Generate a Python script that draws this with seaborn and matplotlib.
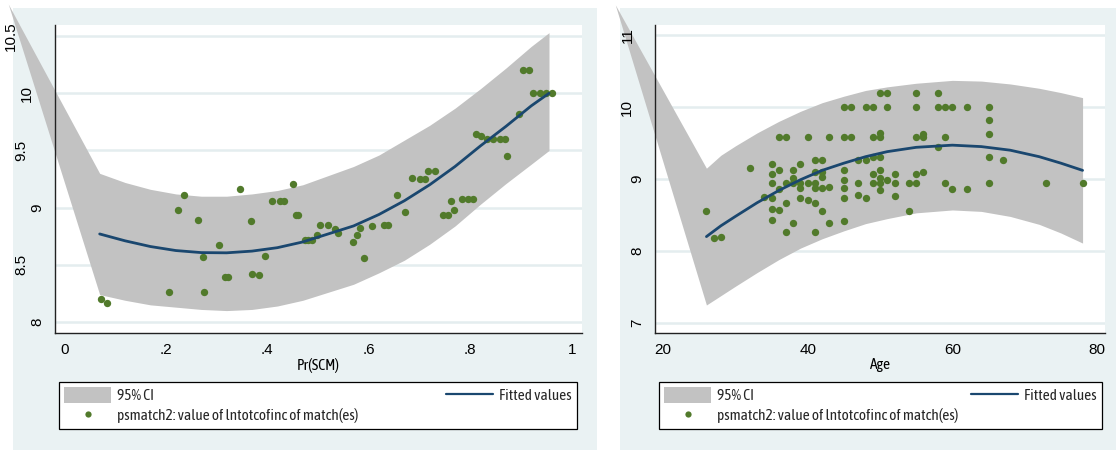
import matplotlib
matplotlib.use("Agg")
import matplotlib.pyplot as plt
from matplotlib import font_manager as fm
from matplotlib.patches import Rectangle, Patch
from matplotlib.lines import Line2D
from matplotlib.font_manager import FontProperties
from matplotlib.transforms import blended_transform_factory, ScaledTranslation
import seaborn as sns

sns.set_style("white")
plt.rcParams["font.family"] = ["Liberation Sans", "DejaVu Sans"]

# ---------------- Panel 1: outcome of matches vs propensity score ----------------
scm_pscore = [0.072, 0.084, 0.207, 0.225, 0.237, 0.264, 0.273, 0.276, 0.305, 0.317,
              0.323, 0.346, 0.369, 0.371, 0.384, 0.396, 0.409, 0.425, 0.433, 0.451,
              0.457, 0.461, 0.474, 0.481, 0.488, 0.499, 0.504, 0.520, 0.533, 0.540,
              0.569, 0.576, 0.583, 0.591, 0.607, 0.630, 0.638, 0.656, 0.671, 0.686,
              0.700, 0.711, 0.716, 0.730, 0.747, 0.757, 0.761, 0.768, 0.783, 0.796,
              0.806, 0.812, 0.822, 0.832, 0.845, 0.858, 0.868, 0.873, 0.896, 0.904,
              0.916, 0.924, 0.937, 0.950, 0.960]
scm_match_val = [8.20, 8.17, 8.26, 8.98, 9.11, 8.89, 8.57, 8.26, 8.67, 8.39,
                 8.39, 9.16, 8.88, 8.42, 8.41, 8.58, 9.06, 9.06, 9.06, 9.21,
                 8.94, 8.94, 8.72, 8.72, 8.72, 8.76, 8.85, 8.85, 8.81, 8.78,
                 8.70, 8.76, 8.82, 8.56, 8.84, 8.85, 8.85, 9.11, 8.96, 9.26,
                 9.25, 9.25, 9.32, 9.32, 8.94, 8.94, 9.06, 8.98, 9.08, 9.08,
                 9.08, 9.64, 9.63, 9.60, 9.60, 9.60, 9.60, 9.45, 9.82, 10.20,
                 10.20, 10.00, 10.00, 10.00, 10.00]

# quadratic fit and its 95% CI (first entry of the band is the stray vertex Stata emits)
scm_fit_x = [0.07, 0.12, 0.17, 0.22, 0.27, 0.32, 0.37, 0.42, 0.47, 0.52,
             0.57, 0.62, 0.67, 0.72, 0.77, 0.82, 0.87, 0.92, 0.955]
scm_fit_y = [8.77, 8.71, 8.66, 8.625, 8.607, 8.605, 8.62, 8.65, 8.70, 8.77,
             8.84, 8.94, 9.06, 9.20, 9.36, 9.54, 9.71, 9.89, 10.00]
scm_ci_x = [-0.11, 0.07, 0.12, 0.17, 0.22, 0.27, 0.32, 0.37, 0.42, 0.47, 0.52,
            0.57, 0.62, 0.67, 0.72, 0.77, 0.82, 0.87, 0.92, 0.955]
scm_ci_hi = [10.78, 9.30, 9.22, 9.16, 9.12, 9.10, 9.10, 9.12, 9.15, 9.20, 9.28,
             9.36, 9.46, 9.59, 9.72, 9.87, 10.04, 10.22, 10.41, 10.53]
scm_ci_lo = [10.78, 8.24, 8.19, 8.15, 8.13, 8.11, 8.10, 8.11, 8.14, 8.19, 8.26,
             8.33, 8.43, 8.54, 8.68, 8.84, 9.03, 9.21, 9.38, 9.50]
scm_xticks = [0, 0.2, 0.4, 0.6, 0.8, 1.0]
scm_xticklabels = ["0", ".2", ".4", ".6", ".8", "1"]
scm_yticks = [8, 8.5, 9, 9.5, 10, 10.5]
scm_yticklabels = ["8", "8.5", "9", "9.5", "10", "10.5"]

# ---------------- Panel 2: outcome of matches vs age ----------------
age = [50, 51, 55, 58,
       45, 46, 48, 49, 51, 55, 58, 59, 60, 62, 65,
       65, 65, 65, 65,
       36, 37, 40, 43, 45, 46, 49, 50, 55, 56, 59, 50, 56,
       58, 67,
       41, 42, 47, 48, 49, 50,
       32, 35, 39,
       35, 35, 35, 35, 35,
       36, 36, 36,
       37, 37, 37,
       38, 38, 38, 38,
       39, 39, 39,
       40, 40,
       41, 41, 41, 41, 41,
       42, 42, 42, 42,
       43, 43,
       45, 45, 45, 45, 45,
       47, 47, 48, 49, 49,
       50, 50, 50, 50, 51,
       52, 52, 52, 54, 54, 55, 55, 56, 59, 60, 62,
       73, 78,
       26, 27, 28, 34]
age_match_val = [10.20, 10.20, 10.20, 10.20,
                 10.00, 10.00, 10.00, 10.00, 10.00, 10.00, 10.00, 10.00, 10.00, 10.00, 10.00,
                 9.82, 9.63, 9.31, 8.94,
                 9.59, 9.59, 9.59, 9.59, 9.59, 9.59, 9.59, 9.59, 9.59, 9.59, 9.59, 9.64, 9.63,
                 9.44, 9.26,
                 9.26, 9.26, 9.27, 9.27, 9.30, 9.30,
                 9.15, 9.21, 9.21,
                 9.07, 8.95, 8.73, 8.58, 8.43,
                 9.12, 8.86, 8.57,
                 8.94, 8.66, 8.26,
                 9.13, 9.01, 8.94, 8.39,
                 8.94, 8.87, 8.73,
                 8.94, 8.71,
                 9.10, 8.94, 8.87, 8.66, 8.26,
                 9.10, 9.03, 8.87, 8.56,
                 8.89, 8.39,
                 9.12, 8.99, 8.87, 8.73, 8.42,
                 8.94, 8.78, 8.73, 9.07, 8.94,
                 9.12, 9.01, 8.94, 8.85, 8.99,
                 9.07, 8.94, 8.77, 8.94, 8.56, 9.07, 8.94, 9.10, 8.94, 8.86, 8.86,
                 8.94, 8.94,
                 8.55, 8.18, 8.19, 8.75]

age_fit_x = [26, 28, 30, 33, 36, 39, 42, 45, 48, 51, 55, 60, 64, 68, 72, 75, 78]
age_fit_y = [8.20, 8.35, 8.48, 8.67, 8.84, 8.99, 9.12, 9.22, 9.31, 9.38,
             9.44, 9.47, 9.45, 9.40, 9.31, 9.22, 9.12]
age_ci_x = [13.4, 26, 28, 30, 33, 36, 39, 42, 45, 48, 51, 55, 60, 64, 68, 72, 75, 78]
age_ci_hi = [11.42, 9.15, 9.33, 9.46, 9.64, 9.80, 9.94, 10.06, 10.15, 10.23,
             10.28, 10.33, 10.37, 10.36, 10.32, 10.26, 10.20, 10.13]
age_ci_lo = [11.42, 7.25, 7.38, 7.51, 7.70, 7.88, 8.04, 8.17, 8.28, 8.38,
             8.45, 8.53, 8.57, 8.55, 8.48, 8.37, 8.25, 8.11]
age_xticks = [20, 40, 60, 80]
age_xticklabels = ["20", "40", "60", "80"]
age_yticks = [7, 8, 9, 10, 11]
age_yticklabels = ["7", "8", "9", "10", "11"]

legend_labels = ["95% CI", "psmatch2: value of lntotcofinc of match(es)", "Fitted values"]

# ---------------- styling ----------------
BG = "#EAF2F3"
BAND = "#C2C2C2"
GREEN = "#517A2B"
NAVY = "#1A476F"
GRID = "#E4EDEF"
TICK_FS = 11

W, H = 1118, 453
fig = plt.figure(figsize=(W / 100, H / 100), dpi=100)
fig.patch.set_facecolor("white")
renderer = fig.canvas.get_renderer()


def ink(s, prop):
    w, h, d = renderer.get_text_width_height_descent(s, prop, ismath=False)
    return w, h - d


def pick_label_face(target_w=241.0, target_cap=11.3):
    """Choose the installed sans face (regular, or a narrow cut) whose size that
    makes the long legend entry target_w px wide gives the closest cap height."""
    paths = {fm.findfont(FontProperties(family="Liberation Sans"))}
    for f in fm.fontManager.ttflist:
        narrow = (f.stretch in ("condensed", "semi-condensed", "extra-condensed",
                                "ultra-condensed")
                  or "Narrow" in f.name or "Condensed" in f.name)
        regular = f.weight in (400, "normal", "regular", "book")
        if narrow and regular and f.style == "normal" and "Mono" not in f.name:
            paths.add(f.fname)
    best = None
    for p in sorted(paths):
        try:
            w, _ = ink(legend_labels[1], FontProperties(fname=p, size=11.2))
            size = 11.2 * target_w / w
            _, cap = ink("H", FontProperties(fname=p, size=size))
        except Exception:
            continue
        score = abs(cap - target_cap)
        if best is None or score < best[0]:
            best = (score, p, size)
    return best[1], best[2]


label_path, LABEL_FS = pick_label_face()


def text_font(size):
    return FontProperties(fname=label_path, size=size)


# vertical labels sit left of the spine by an amount that grows with the
# label's horizontal width (Stata's placement of rotated labels)
measure_font = FontProperties(family="Liberation Sans", size=TICK_FS)


def frac(x0, y0, x1, y1):
    """pixel box (top-left origin) -> figure fraction [left, bottom, width, height]"""
    return [x0 / W, 1 - y1 / H, (x1 - x0) / W, (y1 - y0) / H]


for box in [(13, 8, 597, 450), (620, 8, 1116, 450)]:
    l, b, w, h = frac(*box)
    fig.patches.append(Rectangle((l, b), w, h, transform=fig.transFigure,
                                 facecolor=BG, edgecolor="none", zorder=-5))


def draw_panel(rect, xs, ys, fx, fy, cx, clo, chi, xlim, ylim,
               xticks, xticklabels, yticks, yticklabels, xlabel, legend_box):
    ax = fig.add_axes(frac(*rect))
    ax.set_facecolor("white")
    ax.fill_between(cx, clo, chi, color=BAND, lw=0, zorder=1, clip_on=False)
    sns.scatterplot(x=xs, y=ys, ax=ax, color=GREEN, s=28, linewidth=0,
                    zorder=3, legend=False)
    sns.lineplot(x=fx, y=fy, ax=ax, color=NAVY, lw=2.0, zorder=4,
                 sort=False, estimator=None, legend=False)
    ax.set_xlim(*xlim)
    ax.set_ylim(*ylim)
    ax.set_xticks(xticks)
    ax.set_xticklabels(xticklabels)
    ax.set_yticks(yticks)
    ax.set_yticklabels([])
    ax.yaxis.grid(True, color=GRID, lw=1.8)
    ax.xaxis.grid(False)
    ax.set_axisbelow(True)
    for s in ["top", "right"]:
        ax.spines[s].set_visible(False)
    for s in ["left", "bottom"]:
        ax.spines[s].set_color("#222222")
        ax.spines[s].set_linewidth(1.0)
    ax.tick_params(direction="out", length=4, width=1, color="#222222",
                   labelsize=TICK_FS, labelcolor="black", pad=3)
    ax.set_xlabel(xlabel, fontproperties=text_font(LABEL_FS), labelpad=1, color="black")
    ax.set_ylabel("")

    base = blended_transform_factory(ax.transAxes, ax.transData)
    for val, lab in zip(yticks, yticklabels):
        wpx, _, _ = renderer.get_text_width_height_descent(lab, measure_font, ismath=False)
        gap = 1.27 * wpx
        tr = base + ScaledTranslation(-gap / fig.dpi, 0, fig.dpi_scale_trans)
        ax.text(0, val, lab, transform=tr, rotation=90, ha="right", va="center",
                fontsize=TICK_FS, color="black", zorder=6, clip_on=False)

    handles = [Patch(facecolor=BAND, edgecolor="none"),
               Line2D([], [], marker="o", ls="", color=GREEN, ms=4.5, mec="none"),
               Line2D([], [], color=NAVY, lw=1.6)]
    fs = LABEL_FS * 1.389
    leg = fig.legend(handles, legend_labels, ncol=2, mode="expand",
                     bbox_to_anchor=frac(*legend_box), loc="upper left",
                     borderaxespad=0, frameon=True, fancybox=False,
                     edgecolor="black", framealpha=1, prop=text_font(LABEL_FS),
                     handlelength=47.0 / fs, handleheight=18.0 / fs,
                     handletextpad=6.0 / fs, labelspacing=4.0 / fs,
                     borderpad=5.5 / fs)
    leg.get_frame().set_linewidth(0.9)
    return ax


draw_panel((55, 25, 582, 333), scm_pscore, scm_match_val, scm_fit_x, scm_fit_y,
           scm_ci_x, scm_ci_lo, scm_ci_hi, (-0.018, 1.02), (7.904, 10.597),
           scm_xticks, scm_xticklabels, scm_yticks, scm_yticklabels, "Pr(SCM)",
           (59, 382, 577, 433))
draw_panel((655, 25, 1105, 333), age, age_match_val, age_fit_x, age_fit_y,
           age_ci_x, age_ci_lo, age_ci_hi, (18.89, 81.1), (6.861, 11.139),
           age_xticks, age_xticklabels, age_yticks, age_yticklabels, "Age",
           (659, 382, 1102, 433))

fig.savefig("out.png", dpi=100, facecolor="white")
